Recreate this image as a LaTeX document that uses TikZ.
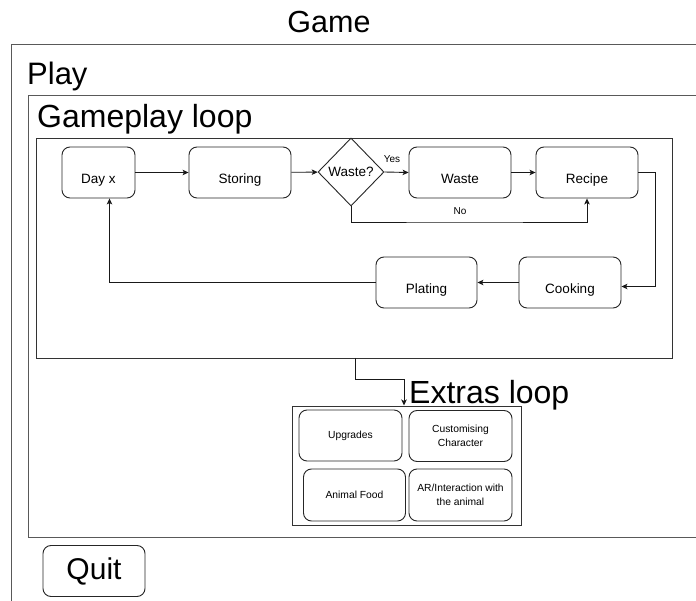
\documentclass[tikz,border=0pt]{standalone}
\usepackage{fontspec}
\setmainfont{Liberation Sans}
\usetikzlibrary{shapes.geometric,arrows.meta}

\tikzset{
  frame/.style={draw=black!65, line width=1pt, inner sep=0pt, anchor=north west},
  panel/.style={draw=black!80, line width=0.9pt, inner sep=0pt, anchor=north west},
  % single-line step: text sits a little below the middle of the box
  stepbox/.style={draw=black!85, line width=0.9pt, rounded corners=8pt, inner sep=0pt,
    minimum height=51pt, text height=22pt, text depth=0pt,
    font=\fontsize{13.5}{16}\selectfont},
  smallbox/.style={draw=black!85, line width=0.9pt, rounded corners=8pt, inner sep=0pt,
    minimum height=51pt, minimum width=103pt, align=center,
    font=\fontsize{10.3}{13.5}\selectfont},
  decision/.style={draw=black!85, line width=0.9pt, diamond, inner sep=0pt,
    minimum width=66pt, minimum height=68pt, font=\fontsize{13.5}{16}\selectfont},
  title/.style={anchor=base west, inner sep=0pt, font=\fontsize{32}{38}\selectfont},
  flow/.style={draw=black!90, line width=0.9pt, -{Stealth[length=6pt,width=5.5pt,inset=1.5pt]}},
  tag/.style={inner sep=0pt, font=\fontsize{10}{12}\selectfont},
}

\begin{document}
\begin{tikzpicture}[x=1pt, y=-1pt]
  \useasboundingbox (0,0) rectangle (696,601);
  \clip (0,0) rectangle (696,601);
  \fill[white] (0,0) rectangle (696,601);

  % nested containers
  \node[frame, minimum width=720pt, minimum height=600pt] (game) at (11,44) {};
  \node[frame, minimum width=700pt, minimum height=442pt] (play) at (28,95) {};
  \node[panel, minimum width=636pt, minimum height=220pt] (loop) at (36,138) {};
  \node[panel, minimum width=229.5pt, minimum height=119.5pt] (extras) at (291.5,405.5) {};

  % headings
  \node[inner sep=0pt, anchor=base, font=\fontsize{30.5}{36}\selectfont] (gametitle) at (329,33) {Game};
  \node[title, font=\fontsize{31}{36}\selectfont] (playtitle) at (27,85) {Play};
  \node[title] (looptitle) at (37,128) {Gameplay loop};
  \node[title] (extrastitle) at (409,403) {Extras loop};

  % gameplay loop steps
  \node[stepbox, minimum width=73pt]  (day)     at (98.5,172.5) {Day x};
  \node[stepbox, minimum width=102pt] (storing) at (240,172.5)  {Storing};
  \node[decision]                     (dec)     at (351,172)    {Waste?};
  \node[stepbox, minimum width=102pt] (waste)   at (460,172.5)  {Waste};
  \node[stepbox, minimum width=102pt] (recipe)  at (587,172.5)  {Recipe};
  \node[stepbox, minimum width=102pt] (cooking) at (570,282.5)  {Cooking};
  \node[stepbox, minimum width=101pt] (plating) at (426.5,282.5) {Plating};

  % extras
  \node[smallbox] (upgrades) at (350.5,435.5) {Upgrades};
  \node[smallbox] (custom)   at (460.5,436) {Customising\\Character};
  \node[smallbox, minimum height=52pt, minimum width=102pt] (food) at (354.5,495) {Animal Food};
  \node[smallbox, minimum height=52pt] (ar) at (460.5,495) {AR/Interaction with\\the animal};

  % quit button
  \node[draw=black!85, line width=0.9pt, rounded corners=8pt, inner sep=0pt,
        minimum width=102pt, minimum height=51pt,
        font=\fontsize{30}{36}\selectfont] (quit) at (94,571) {Quit};

  % connectors
  \draw[flow] (day) -- (storing);
  \draw[flow] (storing) -- (dec);
  \draw[flow] (dec.east) -- (waste.west);
  \node[tag] (yes) at (392,159) {Yes};
  \draw[flow] (waste) -- (recipe);
  \draw[flow] (dec.south) |- (460,222) -| (recipe.south);
  \node[tag] (no) at (460,211) {No};
  \coordinate (rturn) at (655,172.5);
  \draw[flow] (recipe.east) -- (rturn) |- ([yshift=-4pt]cooking.east);
  \draw[flow] (cooking.west) -- (plating.east);
  \draw[flow] (plating.west) -| ([xshift=11pt]day.south);

  \coordinate (lx) at (355,358);
  \coordinate (bend) at (404,379);
  \draw[flow] (lx) |- (bend) -- (bend |- extras.north);
\end{tikzpicture}
\end{document}
